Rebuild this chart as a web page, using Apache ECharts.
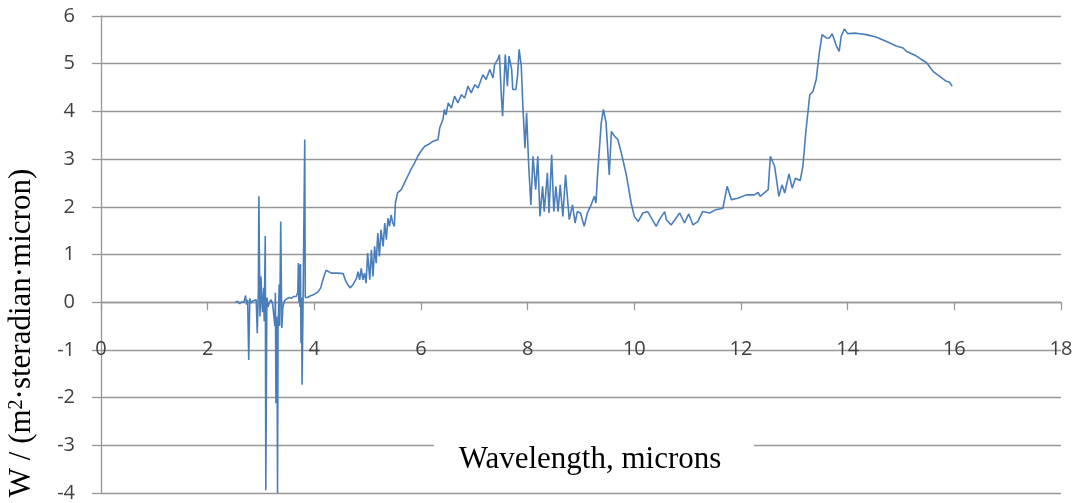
<!DOCTYPE html>
<html>
<head>
<meta charset="utf-8">
<script src="https://cdn.jsdelivr.net/npm/echarts@6/dist/echarts.min.js"></script>
<style>
html,body{margin:0;padding:0;background:#fff;}
#chart{width:1080px;height:503px;}
</style>
</head>
<body>
<div id="chart"></div>
<script>
// Wavelength (microns)
const wavelength = [
2.52,2.56,2.60,2.64,2.68,2.71,2.73,2.75,2.77,2.79,2.82,2.85,2.88,2.91,2.93,2.95,2.96,2.98,3.00,3.02,
3.03,3.05,3.06,3.08,3.09,3.11,3.13,3.16,3.19,3.22,3.25,3.26,3.27,3.28,3.29,3.30,3.31,3.32,3.33,3.34,
3.35,3.37,3.39,3.41,3.44,3.48,3.53,3.57,3.61,3.66,3.69,3.70,3.71,3.72,3.73,3.74,3.75,3.76,3.77,3.79,
3.82,3.83,3.87,3.92,3.97,4.02,4.07,4.12,4.16,4.22,4.32,4.44,4.54,4.58,4.63,4.67,4.72,4.79,4.82,4.85,
4.88,4.91,4.94,4.97,5.00,5.04,5.07,5.10,5.13,5.16,5.19,5.22,5.25,5.29,5.32,5.35,5.38,5.41,5.44,5.47,
5.50,5.52,5.56,5.63,5.69,5.75,5.81,5.88,5.94,6.00,6.07,6.13,6.22,6.32,6.35,6.41,6.44,6.47,6.51,6.57,
6.63,6.69,6.76,6.82,6.88,6.94,7.01,7.07,7.16,7.22,7.29,7.35,7.38,7.44,7.47,7.51,7.53,7.58,7.62,7.65,
7.70,7.72,7.78,7.81,7.84,7.88,7.91,7.95,7.98,8.02,8.06,8.10,8.15,8.19,8.23,8.28,8.31,8.37,8.40,8.45,
8.49,8.53,8.57,8.61,8.66,8.71,8.78,8.84,8.89,8.93,8.99,9.06,9.12,9.19,9.25,9.28,9.31,9.38,9.42,9.47,
9.53,9.57,9.63,9.69,9.75,9.85,9.94,10.00,10.07,10.16,10.25,10.41,10.47,10.57,10.60,10.69,10.85,10.94,11.02,11.10,
11.19,11.28,11.41,11.53,11.66,11.74,11.82,11.94,12.10,12.25,12.32,12.36,12.51,12.55,12.63,12.71,12.77,12.82,12.90,12.96,
13.02,13.11,13.16,13.22,13.29,13.35,13.41,13.46,13.52,13.60,13.66,13.71,13.79,13.84,13.88,13.94,14.00,14.16,14.35,14.53,
14.72,14.91,15.04,15.10,15.29,15.48,15.60,15.72,15.85,15.91,15.96
];
// Radiance W / (m^2·sr·micron)
const radiance = [
0.00,0.02,-0.03,0.01,0.00,0.14,-0.05,0.05,-1.21,0.08,-0.02,0.03,0.00,0.05,-0.65,0.20,2.22,-0.30,0.54,-0.10,
-0.21,0.30,-0.40,1.39,-3.94,0.10,-0.10,0.00,0.05,-0.05,-0.07,-0.50,0.20,-2.12,-0.30,-0.60,-4.00,-0.40,-0.20,0.37,
-0.50,1.69,-0.54,-0.10,0.03,0.07,0.10,0.08,0.12,0.12,0.20,0.82,0.00,0.78,-0.10,0.80,-0.86,0.10,-1.73,0.10,
3.41,0.10,0.10,0.13,0.15,0.18,0.22,0.30,0.47,0.67,0.61,0.61,0.60,0.47,0.36,0.30,0.36,0.50,0.64,0.47,
0.71,0.47,0.61,0.40,1.03,0.47,1.10,0.54,1.17,0.82,1.45,0.96,1.52,1.17,1.66,1.31,1.76,1.59,1.83,1.66,
1.59,2.08,2.29,2.36,2.50,2.64,2.78,2.92,3.06,3.17,3.27,3.30,3.37,3.41,3.65,3.83,4.04,3.93,4.18,4.07,
4.32,4.18,4.35,4.28,4.53,4.39,4.56,4.49,4.77,4.67,4.88,4.70,4.98,5.09,5.19,4.25,3.90,5.19,4.53,5.16,
4.88,4.46,4.46,4.74,5.30,4.95,4.11,3.23,3.97,2.85,2.04,3.06,2.36,3.06,1.80,2.43,1.90,2.71,1.87,3.09,
1.90,2.43,1.90,2.46,1.80,2.67,1.73,2.04,1.66,1.90,1.87,1.59,1.87,2.04,2.22,2.08,2.67,3.76,4.04,3.76,
2.67,3.58,3.48,3.41,3.16,2.67,2.08,1.80,1.69,1.87,1.90,1.59,1.73,1.90,1.73,1.62,1.87,1.66,1.85,1.62,
1.69,1.90,1.87,1.94,1.97,2.43,2.15,2.18,2.25,2.25,2.30,2.22,2.36,3.06,2.85,2.22,2.46,2.29,2.69,2.39,
2.60,2.55,2.85,3.62,4.35,4.42,4.67,5.16,5.61,5.54,5.54,5.63,5.37,5.26,5.58,5.73,5.63,5.64,5.61,5.56,
5.47,5.37,5.33,5.26,5.16,5.02,4.84,4.74,4.63,4.61,4.53
];
const xTitle = 'Wavelength, microns';
const yTitleParts = ['W / (m', '2', '·steradian·micron)'];

const chart = echarts.init(document.getElementById('chart'), null, {renderer: 'canvas'});
const gridColor = '#979797';
const labelColor = '#404040';
const data = wavelength.map((w, i) => [w, radiance[i]]);

// grid: top 16, bottom edge 493 -> y=0 lies 4/10 of 477px above the bottom
const gridTop = 16, gridBottom = 10, gridH = 503 - gridTop - gridBottom;
const zeroOffset = -gridH * 4 / 10;

chart.setOption({
  animation: false,
  backgroundColor: '#ffffff',
  grid: {left: 101, right: 19, top: gridTop, bottom: gridBottom, containLabel: false, outerBoundsMode: 'none'},
  xAxis: {
    type: 'value', min: 0, max: 18, interval: 2, position: 'bottom', offset: zeroOffset,
    axisLine: {show: true, onZero: false, lineStyle: {color: gridColor, width: 1.3}},
    axisTick: {show: true, inside: false, length: 8, lineStyle: {color: gridColor, width: 1.3}},
    axisLabel: {margin: 37, color: labelColor, fontSize: 20, fontFamily: 'Open Sans'},
    splitLine: {show: false}
  },
  yAxis: {
    type: 'value', min: -4, max: 6, interval: 1,
    axisLine: {show: true, lineStyle: {color: gridColor, width: 1.3}},
    axisTick: {show: true, inside: false, length: 9, lineStyle: {color: gridColor, width: 1.3}},
    axisLabel: {margin: 26, color: labelColor, fontSize: 20, fontFamily: 'Open Sans'},
    splitLine: {show: true, lineStyle: {color: gridColor, width: 1.3}}
  },
  series: [{
    type: 'line', data: data, showSymbol: false, symbol: 'none',
    lineStyle: {color: '#4a7ebb', width: 1.6}, z: 5
  }],
  graphic: [
    {type: 'rect', z: 100, shape: {x: 434, y: 425, width: 320, height: 66}, style: {fill: '#ffffff'}},
    {type: 'text', z: 101, x: 590, y: 460,
      style: {text: xTitle, fill: '#000', font: '31px "Liberation Serif"', align: 'center', verticalAlign: 'middle'}},
    {type: 'text', z: 101, x: 22, y: 333, rotation: Math.PI / 2,
      style: {
        text: '{a|' + yTitleParts[0] + '}{s|' + yTitleParts[1] + '}{a|' + yTitleParts[2] + '}',
        align: 'center', verticalAlign: 'middle',
        rich: {
          a: {fontSize: 31, fontFamily: 'Liberation Serif', fill: '#000', color: '#000'},
          s: {fontSize: 20, fontFamily: 'Liberation Serif', fill: '#000', color: '#000', verticalAlign: 'top', padding: [0, 0, 10, 0]}
        }
      }}
  ]
});
</script>
</body>
</html>
